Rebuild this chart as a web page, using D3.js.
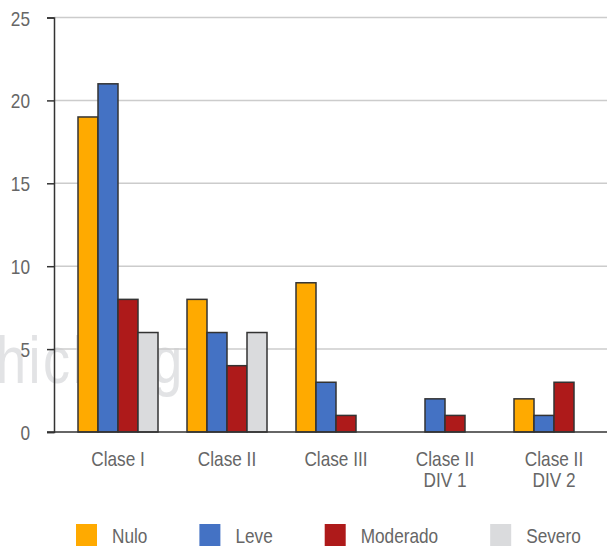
<!DOCTYPE html>
<html>
<head>
<meta charset="utf-8">
<script src="https://cdn.jsdelivr.net/npm/d3@7"></script>
<style>
body { margin: 0; background: #fff; }
text { font-family: "Liberation Sans", Arial, sans-serif; }
</style>
</head>
<body>
<div id="chart"></div>
<script>
// data
var categories = ["Clase I", "Clase II", "Clase III", "Clase II\nDIV 1", "Clase II\nDIV 2"];
var seriesNames = ["Nulo", "Leve", "Moderado", "Severo"];
var nulo     = [19, 8, 9, 0, 2];
var leve     = [21, 6, 3, 2, 1];
var moderado = [8, 4, 1, 1, 3];
var severo   = [6, 6, 0, 0, 0];
var yTicks = [0, 5, 10, 15, 20, 25];

var colors = ["#ffaa00", "#4472c4", "#ae1a1a", "#dadbdd"];
var seriesValues = [nulo, leve, moderado, severo];
var NARROW = 0.82;  // no narrow font installed, squeeze the regular one

var W = 607, H = 546;
var svg = d3.select("#chart").append("svg")
    .attr("width", W)
    .attr("height", H);

var y = d3.scaleLinear().domain([0, 25]).range([432, 17.5]);
var x0 = d3.scaleBand().domain(categories).range([63.5, 608.5])
    .paddingInner(29 / 109).paddingOuter(29 / 218);
var x1 = d3.scaleBand().domain(seriesNames).range([0, x0.bandwidth()]);

function squeeze(t, x, yy) {
  t.attr("transform", "translate(" + x + "," + yy + ") scale(" + NARROW + ",1)");
}

// watermark
var wm = svg.append("text")
    .attr("font-size", 66)
    .attr("fill", "#e2e3e5")
    .attr("letter-spacing", 3)
    .text("hicblog.x");
squeeze(wm, -4, 383);

// gridlines
svg.selectAll(".grid")
    .data(yTicks.filter(function (d) { return d > 0; }))
    .enter().append("line")
    .attr("x1", 54).attr("x2", W)
    .attr("y1", function (d) { return y(d); })
    .attr("y2", function (d) { return y(d); })
    .attr("stroke", "#cccccc")
    .attr("stroke-width", 1.5);

// y axis
var yAxis = svg.append("g")
    .attr("transform", "translate(54,0)")
    .call(d3.axisLeft(y).tickValues(yTicks).tickSize(7));
yAxis.select(".domain").attr("stroke", "#333").attr("stroke-width", 1.5);
yAxis.selectAll(".tick line").attr("stroke", "#333").attr("stroke-width", 1.5);
yAxis.selectAll(".tick text")
    .attr("font-size", 21)
    .attr("fill", "#666")
    .attr("font-family", null)
    .attr("x", 0)
    .attr("dy", "0.36em")
    .attr("transform", "translate(-24,0) scale(" + NARROW + ",1)");

// bars
var rows = [];
categories.forEach(function (c, i) {
  seriesNames.forEach(function (s, j) {
    if (seriesValues[j][i] > 0) rows.push({cat: c, ser: s, val: seriesValues[j][i], col: colors[j]});
  });
});

svg.selectAll(".bar")
    .data(rows)
    .enter().append("rect")
    .attr("class", "bar")
    .attr("x", function (d) { return x0(d.cat) + x1(d.ser); })
    .attr("y", function (d) { return y(d.val); })
    .attr("width", x1.bandwidth())
    .attr("height", function (d) { return y(0) - y(d.val); })
    .attr("fill", function (d) { return d.col; })
    .attr("stroke", "#333")
    .attr("stroke-width", 1.5);

// baseline
svg.append("line")
    .attr("x1", 47).attr("x2", W)
    .attr("y1", y(0)).attr("y2", y(0))
    .attr("stroke", "#333")
    .attr("stroke-width", 1.5);

// category labels
svg.selectAll(".cat")
    .data(categories)
    .enter().append("text")
    .attr("class", "cat")
    .attr("text-anchor", "middle")
    .attr("font-size", 21)
    .attr("fill", "#666")
    .each(function (d) {
      var t = d3.select(this);
      squeeze(t, x0(d) + x0.bandwidth() / 2, 466);
      d.split("\n").forEach(function (line, k) {
        t.append("tspan")
          .attr("x", 0)
          .attr("y", k * 21.5)
          .text(line);
      });
    });

// legend
var legend = svg.append("g");
var lx = 76;
seriesNames.forEach(function (s, i) {
  legend.append("rect")
    .attr("x", lx).attr("y", 524)
    .attr("width", 21).attr("height", 22)
    .attr("fill", colors[i]);
  var t = legend.append("text")
    .attr("font-size", 21)
    .attr("fill", "#666")
    .text(s);
  squeeze(t, lx + 36, 543);
  lx += 36 + t.node().getComputedTextLength() * NARROW + 52;
});
</script>
</body>
</html>
